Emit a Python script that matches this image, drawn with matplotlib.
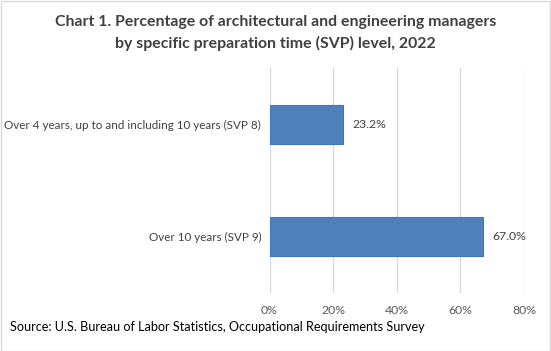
import matplotlib.pyplot as plt
from matplotlib.patches import Rectangle

plt.rcParams['font.family'] = ['Lato', 'DejaVu Sans']

# data
categories = ['Over 4 years, up to and including 10 years (SVP 8)', 'Over 10 years (SVP 9)']
values = [23.2, 67.0]
ticks = [0, 20, 40, 60, 80]

fig = plt.figure(figsize=(5.51, 3.51), dpi=100)
ax = fig.add_axes([269.5 / 551, 1 - 293 / 351, (524 - 269.5) / 551, (293 - 68) / 351])

ypos = list(range(len(categories)))
ax.barh(ypos, values, height=0.35, color='#4F81BD', edgecolor='#4472C4', linewidth=0.8, zorder=3)
for y, v in zip(ypos, values):
    ax.text(v + 3, y, f'{v:.1f}%', va='center', ha='left', fontsize=8.8, color='#404040')

ax.set_xlim(0, 80)
ax.set_ylim(1.5, -0.5)
ax.set_xticks(ticks)
ax.set_xticklabels([f'{t}%' for t in ticks], fontsize=8.8, color='#595959')
ax.set_yticks(ypos)
ax.set_yticklabels(categories, fontsize=8.4, color='#404040')
ax.tick_params(axis='y', length=0, pad=6)
ax.tick_params(axis='x', length=0, pad=9)
ax.grid(axis='x', color='#D9D9D9', linewidth=1, zorder=0)
for s in ax.spines.values():
    s.set_visible(False)

fig.text(0.5, 1 - 22 / 351, 'Chart 1. Percentage of architectural and engineering managers',
         ha='center', va='center', fontsize=11.4, fontweight='bold', color='#404040')
fig.text(0.5, 1 - 43 / 351, 'by specific preparation time (SVP) level, 2022',
         ha='center', va='center', fontsize=11.4, fontweight='bold', color='#404040')
fig.text(10 / 551, 1 - 327 / 351, 'Source: U.S. Bureau of Labor Statistics, Occupational Requirements Survey',
         ha='left', va='center', fontsize=9.1, color='black')

fig.patches.append(Rectangle((0.001, 0.001), 0.998, 0.997, transform=fig.transFigure,
                             fill=False, edgecolor='#D9D9D9', linewidth=1))

fig.savefig('out.png', dpi=100)
